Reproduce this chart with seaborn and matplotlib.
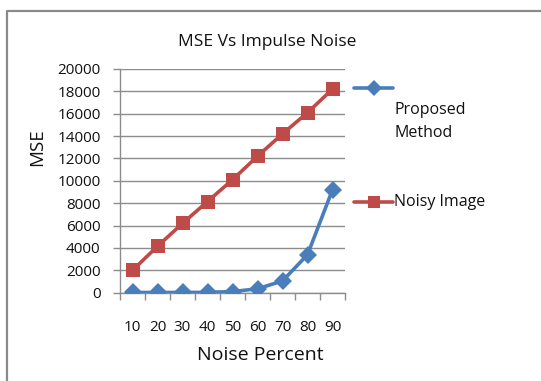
import matplotlib
matplotlib.use("Agg")
import matplotlib.pyplot as plt
from matplotlib.lines import Line2D
import numpy as np
import pandas as pd
import seaborn as sns

# Data
noise_percent = ["10", "20", "30", "40", "50", "60", "70", "80", "90"]
proposed_mse = [20, 20, 20, 30, 100, 350, 1050, 3400, 9200]
noisy_mse = [2000, 4150, 6200, 8150, 10100, 12200, 14200, 16100, 18200]
series_names = ["Proposed Method", "Noisy Image"]
y_ticks = list(range(0, 20001, 2000))

BLUE = "#4A7EBB"
RED = "#BE4B48"
GRID = "#8C8C8C"
TEXT = "#111111"

sns.set_theme(style="white")
plt.rcParams["font.family"] = ["Open Sans", "DejaVu Sans"]

W, H = 541, 381
fig = plt.figure(figsize=(W / 100, H / 100), dpi=100)

def fx(px):
    return px / W

def fy(py):
    return 1 - py / H

ax = fig.add_axes([fx(120), fy(292.7), fx(345) - fx(120), fy(69) - fy(292.7)])

pos = np.arange(len(noise_percent))
df = pd.DataFrame({
    "pos": np.concatenate([pos, pos]),
    "mse": proposed_mse + noisy_mse,
    "series": [series_names[0]] * len(pos) + [series_names[1]] * len(pos),
})

sns.lineplot(data=df, x="pos", y="mse", hue="series", style="series",
             palette=[BLUE, RED], markers=["D", "s"], dashes=False,
             linewidth=2.6, markersize=9.5, markeredgewidth=0,
             legend=False, ax=ax, zorder=3)

ax.set_xlim(-0.5, len(pos) - 0.5)
ax.set_ylim(0, 20000)
ax.set_yticks(y_ticks)
ax.set_yticklabels([str(v) for v in y_ticks])
ax.set_xticks(pos)
ax.set_xticklabels(noise_percent)
ax.set_xticks(np.arange(-0.5, len(pos)), minor=True)

ax.grid(axis="y", color=GRID, linewidth=1.0, zorder=0)
ax.grid(axis="x", visible=False)
for side in ["top", "right"]:
    ax.spines[side].set_visible(False)
for side in ["left", "bottom"]:
    ax.spines[side].set_color(GRID)
    ax.spines[side].set_linewidth(1.0)

ax.tick_params(axis="y", which="major", length=5, width=1.0, color=GRID,
               direction="out", left=True, pad=9, labelsize=11, labelcolor=TEXT)
ax.tick_params(axis="x", which="major", length=0, pad=20, labelsize=11, labelcolor=TEXT)
ax.tick_params(axis="x", which="minor", length=5, width=1.0, color=GRID,
               direction="out", bottom=True)

ax.set_xlabel("")
ax.set_ylabel("")

fig.text(fx(267), fy(42), "MSE Vs Impulse Noise", ha="center", va="center",
         fontsize=12.5, color=TEXT)
fig.text(fx(260), fy(355), "Noise Percent", ha="center", va="center",
         fontsize=14, color=TEXT)
fig.text(fx(37.5), fy(147), "MSE", ha="center", va="center", rotation=90,
         fontsize=13.5, color=TEXT)

# Legend drawn at the right of the plot
fig.add_artist(Line2D([fx(354), fx(373.5), fx(393)], [fy(88)] * 3, color=BLUE,
                      linewidth=2.6, marker="D", markersize=8,
                      markevery=[1], markeredgewidth=0))
fig.add_artist(Line2D([fx(354), fx(373.5), fx(393)], [fy(202)] * 3, color=RED,
                      linewidth=2.6, marker="s", markersize=8,
                      markevery=[1], markeredgewidth=0))
fig.text(fx(394), fy(110), "Proposed", ha="left", va="center", fontsize=11.5, color=TEXT)
fig.text(fx(394), fy(133), "Method", ha="left", va="center", fontsize=11.5, color=TEXT)
fig.text(fx(394), fy(202), "Noisy Image", ha="left", va="center", fontsize=11.5, color=TEXT)

# Chart border (left and top edges)
fig.add_artist(Line2D([fx(7), fx(7), fx(545)], [fy(390), fy(11), fy(11)],
                      color="#8A8A8A", linewidth=1.6))

fig.savefig("out.png", dpi=100)
